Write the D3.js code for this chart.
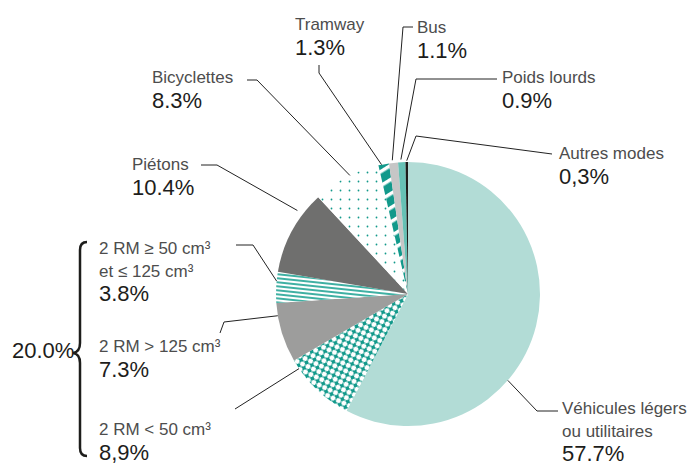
<!DOCTYPE html>
<html>
<head>
<meta charset="utf-8">
<script src="https://cdn.jsdelivr.net/npm/d3@7"></script>
<style>
  body { margin: 0; background: #fff; }
  text { font-family: "Liberation Sans", Arial, sans-serif; }
</style>
</head>
<body>
<div id="container"></div>
<script>
    "use strict";

    // data, clockwise from 12 o'clock
    var categories = ["Véhicules légers ou utilitaires", "2 RM < 50 cm³", "2 RM > 125 cm³",
        "2 RM ≥ 50 cm³ et ≤ 125 cm³", "Piétons", "Bicyclettes", "Tramway", "Bus",
        "Poids lourds", "Autres modes"];
    var values = [57.7, 8.9, 7.3, 3.8, 10.4, 8.3, 1.3, 1.1, 0.9, 0.3];
    var valueLabels = ["57.7%", "8,9%", "7.3%", "3.8%", "10.4%", "8.3%", "1.3%", "1.1%", "0.9%", "0,3%"];
    var nameLines = [
        ["Véhicules légers", "ou utilitaires"],
        ["2 RM < 50 cm³"],
        ["2 RM > 125 cm³"],
        ["2 RM ≥ 50 cm³", "et ≤ 125 cm³"],
        ["Piétons"],
        ["Bicyclettes"],
        ["Tramway"],
        ["Bus"],
        ["Poids lourds"],
        ["Autres modes"]
    ];
    var groupLabel = "20.0%";

    var width = 696, height = 465;
    var cx = 408, cy = 294, radius = 132;
    var teal = "#12998b";

    var fills = ["#b2dcd6", "url(#checks)", "#9d9d9c", "url(#stripes)", "#6f6f6e",
        "url(#dots)", "url(#tram)", "#c6c6c6", "#66c1b5", "#1d1d1b"];

    // label layout: text x, baseline of first line, leader path, where leader meets slice
    var layout = [
        { x: 562, y: 414, pts: [[558, 411], [537, 411]], t: 0.63, rf: 1.0 },
        { x: 99, y: 435, pts: [[235, 409]], t: 0.87, rf: 1.0 },
        { x: 99, y: 352, pts: [[220, 333], [224, 322]], t: 0.79, rf: 1.0 },
        { x: 99, y: 254, pts: [[236, 245], [253, 245]], t: 0.7, rf: 1.0 },
        { x: 132, y: 170, pts: [[201, 165], [217, 165]], t: 0.73, rf: 1.05 },
        { x: 152, y: 83, pts: [[247, 80], [257, 80]], t: 0.56, rf: 1.0 },
        { x: 295, y: 30, pts: [[319, 65], [319, 73]], t: 0.3, rf: 1.0 },
        { x: 417, y: 33, pts: [[413, 27], [403, 27]], t: 0.4, rf: 1.02 },
        { x: 502, y: 83, pts: [[497, 79], [416, 79]], t: 0.4, rf: 1.02 },
        { x: 559, y: 159, pts: [[552, 154], [416, 136]], t: 0.5, rf: 1.01 }
    ];

    var svg = d3.select("#container").append("svg")
        .attr("width", width)
        .attr("height", height);

    var defs = svg.append("defs");

    var checks = defs.append("pattern")
        .attr("id", "checks")
        .attr("patternUnits", "userSpaceOnUse")
        .attr("width", 6).attr("height", 6)
        .attr("patternTransform", "rotate(25)");
    checks.append("rect").attr("width", 6).attr("height", 6).attr("fill", "#fff");
    checks.append("rect").attr("x", 2).attr("y", 0.5).attr("width", 2).attr("height", 5).attr("fill", teal);
    checks.append("rect").attr("x", 0.5).attr("y", 2).attr("width", 5).attr("height", 2).attr("fill", teal);

    var stripes = defs.append("pattern")
        .attr("id", "stripes")
        .attr("patternUnits", "userSpaceOnUse")
        .attr("width", 8).attr("height", 4)
        .attr("patternTransform", "rotate(6)");
    stripes.append("rect").attr("width", 8).attr("height", 4).attr("fill", "#fff");
    stripes.append("rect").attr("y", 1).attr("width", 8).attr("height", 2).attr("fill", "#3fb0a3");

    var dots = defs.append("pattern")
        .attr("id", "dots")
        .attr("patternUnits", "userSpaceOnUse")
        .attr("width", 9).attr("height", 9);
    dots.append("rect").attr("width", 9).attr("height", 9).attr("fill", "#fff");
    dots.append("circle").attr("cx", 4.5).attr("cy", 4.5).attr("r", 0.9).attr("fill", teal);

    var tram = defs.append("pattern")
        .attr("id", "tram")
        .attr("patternUnits", "userSpaceOnUse")
        .attr("width", 12).attr("height", 12)
        .attr("patternTransform", "rotate(-32)");
    tram.append("rect").attr("width", 12).attr("height", 12).attr("fill", teal);
    tram.append("rect").attr("y", 0).attr("width", 12).attr("height", 3.5).attr("fill", "#fff");

    var pie = d3.pie().sort(null).value(function(d) { return d; });
    var arcs = pie(values);

    var arc = d3.arc().innerRadius(0).outerRadius(radius);

    var graph = svg.append("g")
        .attr("transform", "translate(" + cx + "," + cy + ")");

    graph.selectAll(".slice")
        .data(arcs)
        .enter().append("path")
            .attr("class", "slice")
            .attr("d", arc)
            .attr("fill", function(d, i) { return fills[i]; });

    // leader lines
    svg.selectAll(".leader")
        .data(arcs)
        .enter().append("polyline")
            .attr("class", "leader")
            .attr("fill", "none")
            .attr("stroke", "#222")
            .attr("stroke-width", 1)
            .attr("points", function(d, i) {
                var l = layout[i];
                var a = d.startAngle + l.t * (d.endAngle - d.startAngle);
                var ex = cx + Math.sin(a) * radius * l.rf,
                    ey = cy - Math.cos(a) * radius * l.rf;
                return l.pts.concat([[ex, ey]]).map(function(p) { return p.join(","); }).join(" ");
            });

    // labels
    var labels = svg.selectAll(".label")
        .data(arcs)
        .enter().append("text")
            .attr("class", "label")
            .attr("x", function(d, i) { return layout[i].x; })
            .attr("y", function(d, i) { return layout[i].y; });

    labels.each(function(d, i) {
        var t = d3.select(this);
        nameLines[i].forEach(function(line, j) {
            t.append("tspan")
                .attr("x", layout[i].x)
                .attr("dy", j === 0 ? 0 : 23)
                .attr("font-size", 17)
                .attr("fill", "#4d4d4d")
                .text(line);
        });
        t.append("tspan")
            .attr("x", layout[i].x)
            .attr("dy", nameLines[i].length > 1 ? 24 : 25)
            .attr("font-size", 22)
            .attr("fill", "#1d1d1b")
            .text(valueLabels[i]);
    });

    // brace grouping the three 2 RM labels
    svg.append("path")
        .attr("d", "M87,242 Q80,242 80,250 L80,343 Q80,352 73,353 Q80,354 80,363 L80,448 Q80,456 87,456")
        .attr("fill", "none")
        .attr("stroke", "#1d1d1b")
        .attr("stroke-width", 2.5);

    svg.append("text")
        .attr("x", 12)
        .attr("y", 358)
        .attr("font-size", 22)
        .attr("fill", "#1d1d1b")
        .text(groupLabel);
</script>
</body>
</html>
